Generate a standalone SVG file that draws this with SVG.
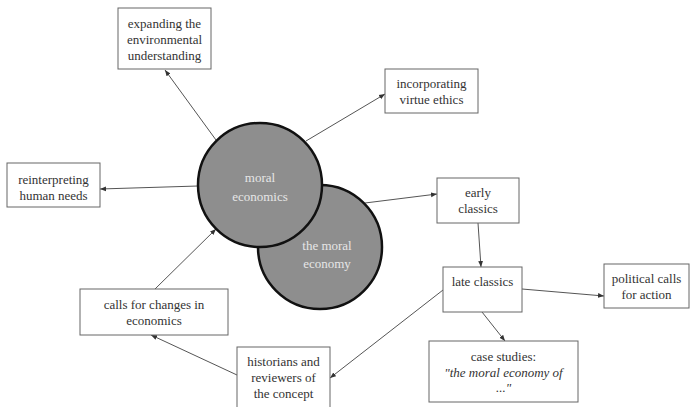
<svg xmlns="http://www.w3.org/2000/svg" width="691" height="407" viewBox="0 0 691 407">
<defs>
<marker id="ah" viewBox="0 0 10 10" refX="10" refY="5" markerWidth="6" markerHeight="6" orient="auto" markerUnits="userSpaceOnUse">
<path d="M0,1 L10,5 L0,9 z" fill="#333"/>
</marker>
<style>
.box{fill:#fff;stroke:#666;stroke-width:1}
.t{font-family:'Liberation Serif','DejaVu Serif',serif;font-size:13px;fill:#333;text-anchor:middle}
.ci{fill:#8e8e8e;stroke:#111;stroke-width:2.5}
.ct{font-family:'Liberation Serif','DejaVu Serif',serif;font-size:13px;fill:#e6e6e6;text-anchor:middle}
.c{stroke:#555;stroke-width:1;fill:none;marker-end:url(#ah)}
</style>
</defs>
<rect width="691" height="407" fill="#fff"/>
<g id="connectors">
<line class="c" x1="216" y1="140" x2="165" y2="70"/>
<line class="c" x1="306" y1="141" x2="385" y2="94"/>
<line class="c" x1="198" y1="186" x2="100" y2="189"/>
<line class="c" x1="155" y1="289" x2="216" y2="229"/>
<line class="c" x1="237" y1="375" x2="151" y2="335"/>
<line class="c" x1="443" y1="290" x2="330" y2="378"/>
<line class="c" x1="365" y1="203" x2="437" y2="194"/>
<line class="c" x1="478" y1="223" x2="481" y2="267"/>
<line class="c" x1="522" y1="289" x2="604" y2="296"/>
<line class="c" x1="482" y1="312" x2="505" y2="341"/>
</g>
<g id="moral-economy">
<circle class="ci" cx="320" cy="247" r="62"/>
<text class="ct" x="327" y="250" font-family="Liberation Serif, serif">the moral</text>
<text class="ct" x="327" y="268" font-family="Liberation Serif, serif">economy</text>
</g>
<g id="moral-economics">
<circle class="ci" cx="260" cy="185" r="62"/>
<text class="ct" x="260" y="182">moral</text>
<text class="ct" x="260" y="201">economics</text>
</g>
<g id="expanding">
<rect class="box" x="118" y="8" width="93" height="61"/>
<text class="t" x="164.5" y="28">expanding the</text>
<text class="t" x="164.5" y="44">environmental</text>
<text class="t" x="164.5" y="60">understanding</text>
</g>
<g id="reinterpreting">
<rect class="box" x="7" y="163" width="93" height="44"/>
<text class="t" x="53.5" y="184">reinterpreting</text>
<text class="t" x="53.5" y="200">human needs</text>
</g>
<g id="incorporating">
<rect class="box" x="385" y="69" width="93" height="44"/>
<text class="t" x="431.5" y="88">incorporating</text>
<text class="t" x="431.5" y="104">virtue ethics</text>
</g>
<g id="early-classics">
<rect class="box" x="437" y="178" width="82" height="45"/>
<text class="t" x="478" y="197">early</text>
<text class="t" x="478" y="213">classics</text>
</g>
<g id="late-classics">
<rect class="box" x="443" y="267" width="79" height="45"/>
<text class="t" x="482.5" y="286">late classics</text>
</g>
<g id="political">
<rect class="box" x="604" y="264" width="85" height="44"/>
<text class="t" x="646.5" y="283">political calls</text>
<text class="t" x="646.5" y="299">for action</text>
</g>
<g id="case-studies">
<rect class="box" x="429" y="341" width="149" height="61"/>
<text class="t" x="503.5" y="361">case studies:</text>
<text class="t" x="503.5" y="377" font-style="italic">"the moral economy of</text>
<text class="t" x="503.5" y="392" font-style="italic">..."</text>
</g>
<g id="calls-for-changes">
<rect class="box" x="80" y="289" width="148" height="46"/>
<text class="t" x="154" y="309">calls for changes in</text>
<text class="t" x="154" y="325">economics</text>
</g>
<g id="historians">
<rect class="box" x="237" y="347" width="93" height="64"/>
<text class="t" x="283.5" y="366">historians and</text>
<text class="t" x="283.5" y="382">reviewers of</text>
<text class="t" x="283.5" y="398">the concept</text>
</g>
</svg>
